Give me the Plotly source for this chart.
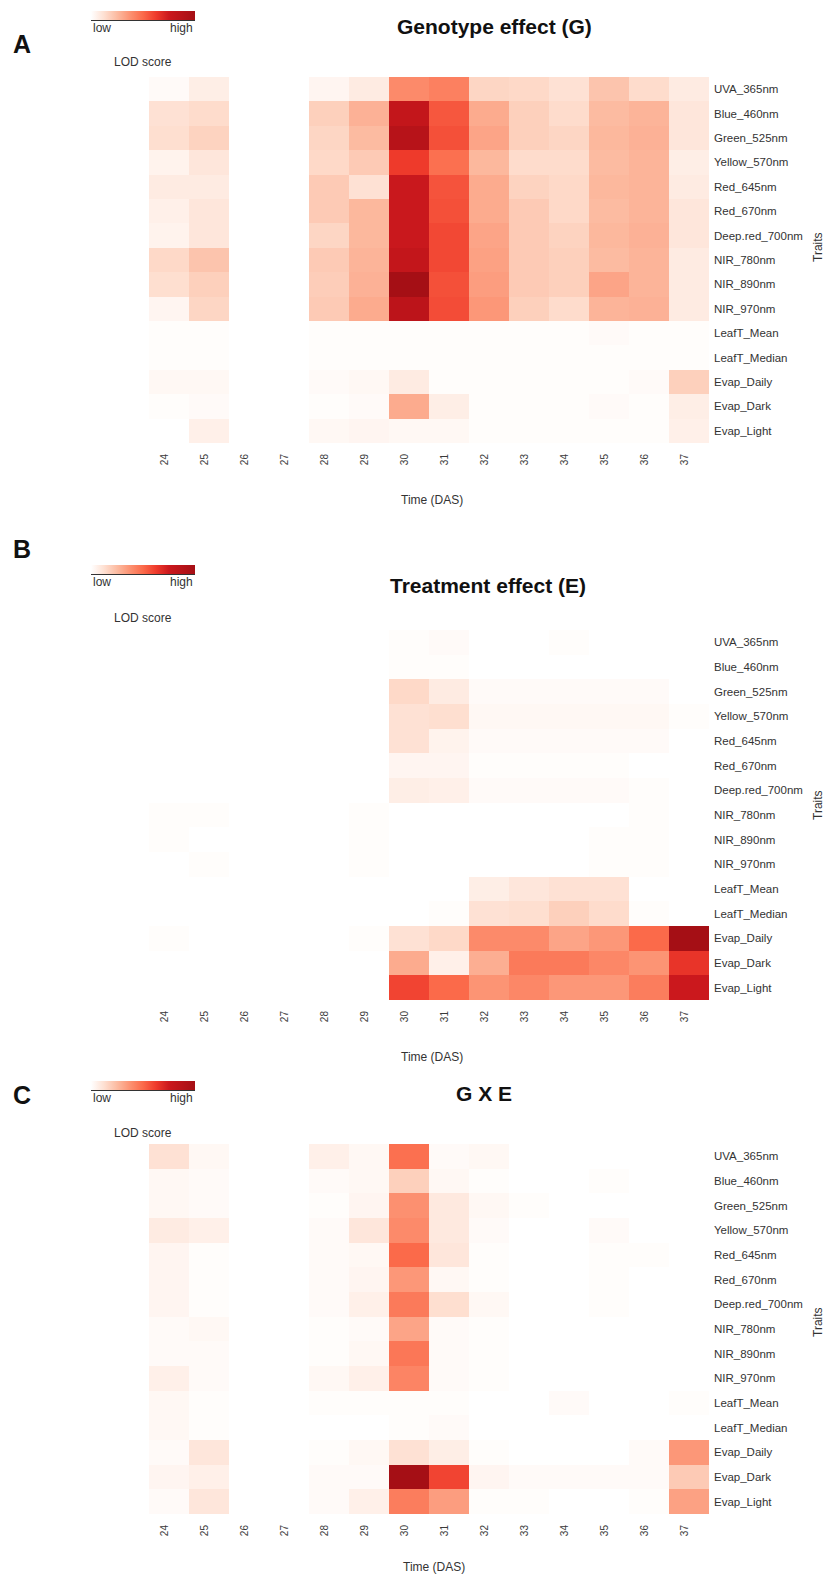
import plotly.graph_objects as go

W, H = 835, 1577
N = None

days = [24, 25, 26, 27, 28, 29, 30, 31, 32, 33, 34, 35, 36, 37]
traits = ["UVA_365nm", "Blue_460nm", "Green_525nm", "Yellow_570nm", "Red_645nm",
          "Red_670nm", "Deep.red_700nm", "NIR_780nm", "NIR_890nm", "NIR_970nm",
          "LeafT_Mean", "LeafT_Median", "Evap_Daily", "Evap_Dark", "Evap_Light"]

# Relative LOD scores (0 = low, 1 = high)
geno_lod = [
    [0.02, 0.07, N, N, 0.04, 0.08, 0.40, 0.43, 0.16, 0.15, 0.12, 0.22, 0.14, 0.08],
    [0.12, 0.14, N, N, 0.18, 0.28, 0.80, 0.55, 0.30, 0.18, 0.14, 0.25, 0.27, 0.10],
    [0.13, 0.17, N, N, 0.16, 0.25, 0.88, 0.57, 0.32, 0.18, 0.16, 0.26, 0.28, 0.10],
    [0.05, 0.10, N, N, 0.15, 0.20, 0.63, 0.48, 0.26, 0.14, 0.14, 0.25, 0.27, 0.07],
    [0.08, 0.08, N, N, 0.20, 0.12, 0.76, 0.56, 0.30, 0.17, 0.15, 0.26, 0.27, 0.08],
    [0.06, 0.10, N, N, 0.20, 0.26, 0.76, 0.57, 0.30, 0.20, 0.15, 0.25, 0.27, 0.10],
    [0.05, 0.10, N, N, 0.16, 0.26, 0.76, 0.59, 0.32, 0.20, 0.17, 0.26, 0.28, 0.10],
    [0.15, 0.22, N, N, 0.20, 0.27, 0.80, 0.59, 0.33, 0.20, 0.18, 0.25, 0.27, 0.08],
    [0.13, 0.18, N, N, 0.19, 0.28, 1.00, 0.57, 0.34, 0.20, 0.18, 0.32, 0.27, 0.08],
    [0.04, 0.16, N, N, 0.20, 0.30, 0.85, 0.58, 0.36, 0.18, 0.14, 0.27, 0.28, 0.08],
    [0.01, 0.01, N, N, 0.01, 0.01, 0.01, 0.01, 0.01, 0.01, 0.01, 0.02, 0.01, 0.01],
    [0.01, 0.01, N, N, 0.01, 0.01, 0.01, 0.01, 0.01, 0.01, 0.01, 0.01, 0.01, 0.01],
    [0.03, 0.03, N, N, 0.02, 0.03, 0.08, 0.01, 0.01, 0.01, 0.01, 0.01, 0.02, 0.18],
    [0.01, 0.02, N, N, 0.01, 0.02, 0.30, 0.07, 0.01, 0.01, 0.01, 0.02, 0.01, 0.07],
    [0.00, 0.06, N, N, 0.03, 0.04, 0.03, 0.03, 0.01, 0.01, 0.01, 0.01, 0.01, 0.06],
]

treat_lod = [
    [0, 0, 0, 0, 0, 0, 0.01, 0.02, 0, 0, 0.01, 0, 0, 0],
    [0, 0, 0, 0, 0, 0, 0.01, 0.01, 0, 0, 0, 0, 0, 0],
    [0, 0, 0, 0, 0, 0, 0.15, 0.08, 0.02, 0.02, 0.02, 0.02, 0.02, 0],
    [0, 0, 0, 0, 0, 0, 0.12, 0.13, 0.03, 0.03, 0.03, 0.03, 0.03, 0.01],
    [0, 0, 0, 0, 0, 0, 0.12, 0.05, 0.02, 0.02, 0.02, 0.02, 0.02, 0],
    [0, 0, 0, 0, 0, 0, 0.04, 0.04, 0.01, 0.01, 0.01, 0.01, 0, 0],
    [0, 0, 0, 0, 0, 0, 0.07, 0.06, 0.02, 0.02, 0.02, 0.02, 0.01, 0],
    [0.01, 0.01, 0, 0, 0, 0.01, 0, 0, 0, 0, 0, 0, 0.01, 0],
    [0.01, 0, 0, 0, 0, 0.01, 0, 0, 0, 0, 0, 0.01, 0.01, 0],
    [0, 0.01, 0, 0, 0, 0.01, 0, 0, 0, 0, 0, 0.01, 0.01, 0],
    [0, 0, 0, 0, 0, 0, 0, 0, 0.07, 0.10, 0.12, 0.12, 0, 0],
    [0, 0, 0, 0, 0, 0, 0, 0.01, 0.12, 0.13, 0.18, 0.14, 0.01, 0],
    [0.01, 0, 0, 0, 0, 0.01, 0.12, 0.15, 0.40, 0.40, 0.32, 0.36, 0.50, 1.00],
    [0, 0, 0, 0, 0, 0, 0.30, 0.06, 0.29, 0.45, 0.45, 0.41, 0.37, 0.65],
    [0, 0, 0, 0, 0, 0, 0.60, 0.50, 0.37, 0.41, 0.36, 0.36, 0.44, 0.75],
]

gxe_lod = [
    [0.12, 0.03, N, N, 0.06, 0.03, 0.48, 0.02, 0.03, 0, 0, 0, 0, 0],
    [0.03, 0.02, N, N, 0.02, 0.03, 0.18, 0.03, 0.01, 0, 0, 0.01, 0, 0],
    [0.03, 0.02, N, N, 0.01, 0.04, 0.38, 0.09, 0.03, 0.01, 0, 0, 0, 0],
    [0.08, 0.06, N, N, 0.02, 0.10, 0.40, 0.09, 0.02, 0, 0, 0.02, 0, 0],
    [0.04, 0.01, N, N, 0.02, 0.03, 0.50, 0.10, 0.01, 0, 0, 0.01, 0.01, 0],
    [0.04, 0.01, N, N, 0.02, 0.04, 0.36, 0.03, 0.01, 0, 0, 0.01, 0, 0],
    [0.04, 0.01, N, N, 0.02, 0.06, 0.45, 0.13, 0.03, 0, 0, 0.01, 0, 0],
    [0.02, 0.03, N, N, 0.01, 0.02, 0.32, 0.02, 0.01, 0, 0, 0, 0, 0],
    [0.02, 0.02, N, N, 0.01, 0.03, 0.46, 0.02, 0.01, 0, 0, 0, 0, 0],
    [0.06, 0.02, N, N, 0.03, 0.06, 0.42, 0.02, 0.01, 0, 0, 0, 0, 0],
    [0.03, 0.01, N, N, 0.01, 0.01, 0.01, 0.01, 0, 0, 0.02, 0, 0, 0.01],
    [0.03, 0.01, N, N, 0, 0, 0.01, 0.02, 0, 0, 0, 0, 0, 0],
    [0.02, 0.10, N, N, 0.01, 0.03, 0.12, 0.07, 0.01, 0, 0, 0, 0.02, 0.36],
    [0.04, 0.06, N, N, 0.02, 0.02, 1.00, 0.60, 0.04, 0.02, 0.02, 0.02, 0.02, 0.20],
    [0.02, 0.10, N, N, 0.02, 0.06, 0.44, 0.34, 0.01, 0.01, 0, 0, 0.01, 0.33],
]

panel_titles = ["Genotype effect (G)", "Treatment effect (E)", "G X E"]
panel_letters = ["A", "B", "C"]

colorscale = [[0.0, "#ffffff"], [0.125, "#fee0d2"], [0.25, "#fcbba1"],
              [0.375, "#fc9272"], [0.5, "#fb6a4a"], [0.625, "#ef3b2c"],
              [0.75, "#cb181d"], [1.0, "#a50f15"]]

FONT = "Arial, Liberation Sans, sans-serif"

def px(x):
    return x / W

def py(y):
    return 1 - y / H

# layout geometry in pixels
heat_x = (149, 709)
heat_y = [(77, 443), (630, 1000), (1144, 1514)]
cbar_top = [11, 565, 1081]
lod_y = [62, 618, 1133]
title_pos = [(494, 26), (488, 585), (484, 1093)]
letter_pos = [(22, 44), (22, 549), (22, 1095)]
time_pos = [(432, 500), (432, 1057), (434, 1567)]
traits_pos = [(818, 247), (818, 805), (818, 1322)]

fig = go.Figure()
layout = dict(width=W, height=H, margin=dict(l=0, r=0, t=0, b=0),
              paper_bgcolor="white", plot_bgcolor="white",
              font=dict(family=FONT, color="#333333"),
              annotations=[], shapes=[])

def note(text, x, y, size, color="#333333", xanchor="center", angle=0):
    return dict(text=text, x=px(x), y=py(y), xref="paper", yref="paper",
                xanchor=xanchor, yanchor="middle", textangle=angle,
                showarrow=False, font=dict(size=size, color=color, family=FONT))

for i, z in enumerate([geno_lod, treat_lod, gxe_lod]):
    sfx = "" if i == 0 else str(i + 1)
    fig.add_trace(go.Heatmap(
        z=z, x=[str(d) for d in days], y=traits,
        coloraxis="coloraxis" + sfx, xaxis="x" + sfx, yaxis="y" + sfx,
        hoverongaps=False))
    layout["xaxis" + sfx] = dict(
        domain=[px(heat_x[0]), px(heat_x[1])], anchor="y" + sfx,
        type="category", tickangle=-90, showgrid=False, zeroline=False,
        showline=False, ticks="", tickfont=dict(size=10, color="#3a3a3a"),
        ticklabelstandoff=8, ticklabelshift=-4)
    layout["yaxis" + sfx] = dict(
        domain=[py(heat_y[i][1]), py(heat_y[i][0])], anchor="x" + sfx,
        type="category", autorange="reversed", side="right",
        showgrid=False, zeroline=False, showline=False, ticks="",
        tickfont=dict(size=11.5, color="#333333"), ticklabelstandoff=4)
    layout["coloraxis" + sfx] = dict(
        colorscale=colorscale, cmin=0, cmax=1,
        colorbar=dict(orientation="h", x=px(91), xanchor="left",
                      y=py(cbar_top[i]), yanchor="top",
                      thickness=9, thicknessmode="pixels",
                      len=104, lenmode="pixels", outlinewidth=0,
                      showticklabels=False, ticks="", xpad=0, ypad=0))
    # line under colour bar
    layout["shapes"].append(dict(type="line", xref="paper", yref="paper",
                                 x0=px(91), x1=px(195),
                                 y0=py(cbar_top[i] + 9.5), y1=py(cbar_top[i] + 9.5),
                                 line=dict(color="#333333", width=1.2)))
    ann = layout["annotations"]
    ann.append(note("low", 91, cbar_top[i] + 17, 12, xanchor="left"))
    ann.append(note("high", 195, cbar_top[i] + 17, 12, xanchor="right"))
    ann.append(note("LOD score", 143, lod_y[i], 12))
    ann.append(note("<b>" + panel_titles[i] + "</b>", title_pos[i][0], title_pos[i][1],
                    21, color="#111111"))
    ann.append(note("<b>" + panel_letters[i] + "</b>", letter_pos[i][0], letter_pos[i][1],
                    25, color="#111111"))
    ann.append(note("Time (DAS)", time_pos[i][0], time_pos[i][1], 12))
    ann.append(note("Traits", traits_pos[i][0], traits_pos[i][1], 12, angle=-90))

fig.update_layout(**layout)
fig.write_html("out.html")
